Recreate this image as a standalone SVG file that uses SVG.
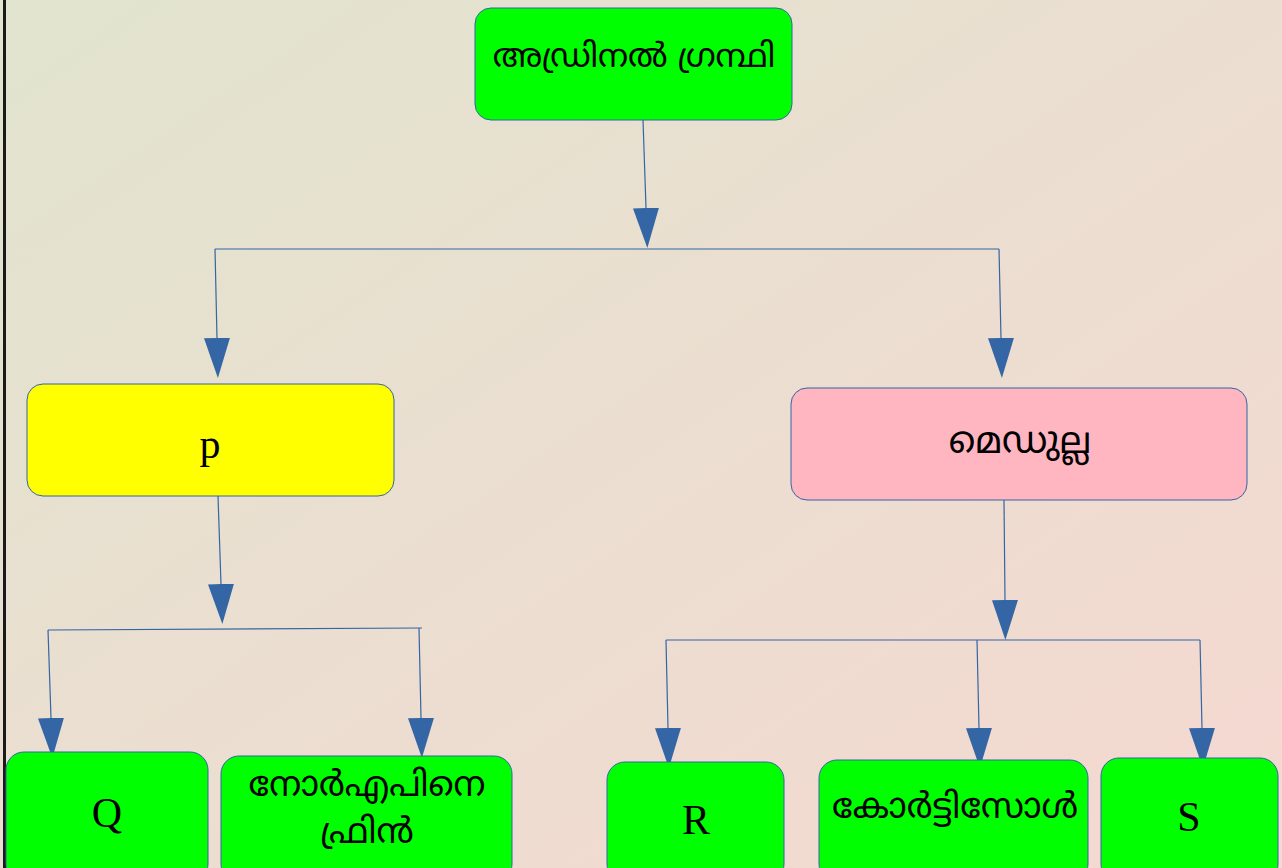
<svg xmlns="http://www.w3.org/2000/svg" width="1282" height="868" viewBox="0 0 1282 868">
<defs>
<linearGradient id="bg" x1="0" y1="0" x2="1" y2="1">
<stop offset="0" stop-color="#e1e4cf"/>
<stop offset="1" stop-color="#f5d8d1"/>
</linearGradient>
<marker id="ah" markerUnits="userSpaceOnUse" markerWidth="40" markerHeight="26" refX="0" refY="13" orient="auto" viewBox="0 0 40 26">
<path d="M0,0 L40,13 L0,26 Z" fill="#3465a4"/>
</marker>
<style>
.box{stroke:#3465a4;stroke-width:1}
.g{fill:#00ff00}
.ln{fill:none;stroke:#3465a4;stroke-width:1.2}
.ml{font-family:"Noto Sans Malayalam","Noto Sans","DejaVu Sans",sans-serif;font-size:35px;fill:#000;text-anchor:middle}
.lt{font-family:"Liberation Serif",serif;font-size:42px;fill:#000;text-anchor:middle}
</style>
</defs>
<rect x="0" y="0" width="1282" height="868" fill="url(#bg)"/>
<rect x="3" y="0" width="3" height="868" fill="#1a1a1a"/>
<g id="connectors">
<path class="ln" d="M643,120 L646,208" marker-end="url(#ah)"/>
<path class="ln" d="M215,249 L999,249"/>
<path class="ln" d="M215,249 L217,338" marker-end="url(#ah)"/>
<path class="ln" d="M999,249 L1001,338" marker-end="url(#ah)"/>
<path class="ln" d="M218,496 L221,584" marker-end="url(#ah)"/>
<path class="ln" d="M48,630 L422,628"/>
<path class="ln" d="M48,630 L51,718" marker-end="url(#ah)"/>
<path class="ln" d="M419,628 L421,718" marker-end="url(#ah)"/>
<path class="ln" d="M1004,500 L1005,600" marker-end="url(#ah)"/>
<path class="ln" d="M666,640 L1200,640"/>
<path class="ln" d="M666,640 L668,728" marker-end="url(#ah)"/>
<path class="ln" d="M977,640 L979,728" marker-end="url(#ah)"/>
<path class="ln" d="M1200,640 L1202,728" marker-end="url(#ah)"/>
</g>
<g id="n-adrenal">
<rect class="box g" x="475" y="8" width="317" height="112" rx="16"/>
<text class="ml" x="634" y="67" style="font-size:33px">അഡ്രിനൽ ഗ്രന്ഥി</text>
</g>
<g id="n-p">
<rect class="box" x="27" y="384" width="367" height="112" rx="16" fill="#ffff00"/>
<text class="lt" x="210" y="458">p</text>
</g>
<g id="n-medulla">
<rect class="box" x="791" y="388" width="456" height="112" rx="16" fill="#ffb6c1"/>
<text class="ml" x="1020" y="453" style="font-size:37px">മെഡുല്ല</text>
</g>
<g id="n-q">
<rect class="box g" x="6" y="752" width="202" height="130" rx="18"/>
<text class="lt" x="107" y="827">Q</text>
</g>
<g id="n-nor">
<rect class="box g" x="221" y="756" width="291" height="126" rx="18"/>
<text class="ml" x="367" y="796">നോർഎപിനെ</text>
<text class="ml" x="367" y="843">ഫ്രിൻ</text>
</g>
<g id="n-r">
<rect class="box g" x="607" y="762" width="177" height="120" rx="18"/>
<text class="lt" x="696" y="834">R</text>
</g>
<g id="n-cort">
<rect class="box g" x="819" y="760" width="269" height="122" rx="18"/>
<text class="ml" x="955" y="818">കോർട്ടിസോൾ</text>
</g>
<g id="n-s">
<rect class="box g" x="1101" y="758" width="177" height="124" rx="18"/>
<text class="lt" x="1189" y="831">S</text>
</g>
</svg>
